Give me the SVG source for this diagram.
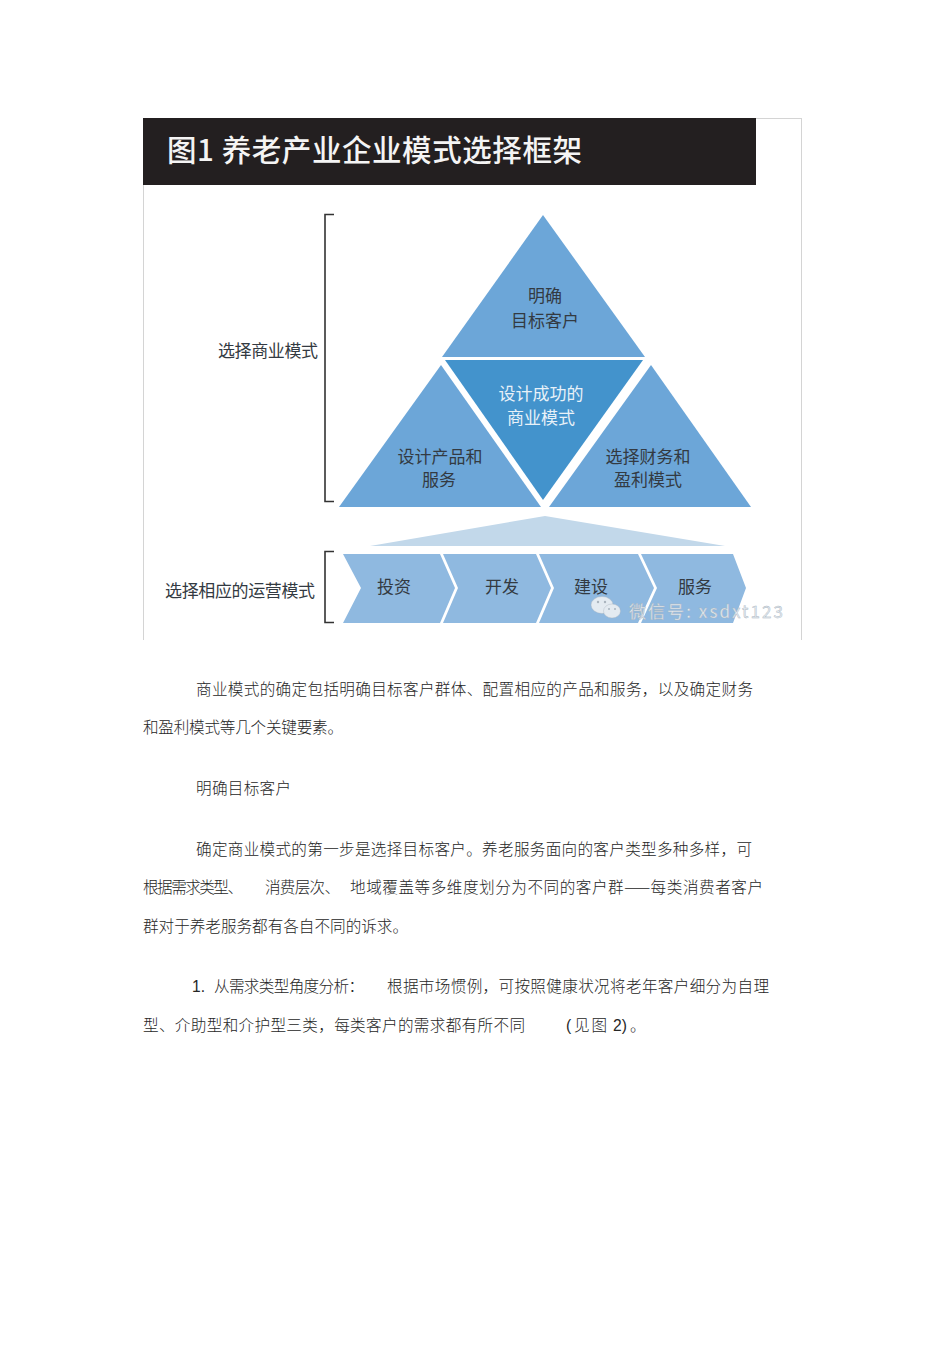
<svg xmlns="http://www.w3.org/2000/svg" width="950" height="1345" viewBox="0 0 950 1345">
<style>
text{font-family:"Noto Sans CJK SC","Liberation Sans",sans-serif}
.b{font-size:15.6px;fill:#262626;font-weight:300}
.a{font-size:15.6px;fill:#262626;font-family:"Liberation Sans",sans-serif}
.n{font-size:17px;fill:#333a42;text-anchor:middle}
.w{font-size:17px;fill:#e8f1f8;text-anchor:middle}
.l{fill:#6ca6d8}
.c{fill:#8fb9e0}
.br{fill:none;stroke:#333;stroke-width:1.6}
.wm{fill:#e4ebf1;stroke:#a9b4be;stroke-width:.4}
</style>
<rect width="950" height="1345" fill="#fff"/>
<g id="frame"><path d="M143.500 118V640M801.500 118V640M756 118.500H802" fill="none" stroke="#d4d4d4"/></g>
<g id="header"><rect x="143" y="118" width="613" height="67" fill="#231f20"/>
<text x="167" y="161" font-size="29.500" font-weight="500" fill="#f4f4f4" textLength="415" lengthAdjust="spacing">图1 养老产业企业模式选择框架</text></g>
<g id="connectors">
<path class="br" d="M334 214.500H325V501.500H334"/>
<path class="br" d="M334 551.500H325V622.500H334"/>
</g>
<g id="label-business"><text class="n" x="268" y="357" textLength="100">选择商业模式</text></g>
<g id="label-operation"><text class="n" x="240" y="597" textLength="150">选择相应的运营模式</text></g>
<g id="tri-top"><polygon class="l" points="543,215 645,357 442,357"/>
<text class="n" x="545" y="302">明确</text><text class="n" x="545" y="327">目标客户</text></g>
<g id="tri-center"><polygon fill="#4393cc" points="445,360 643,360 543,500"/>
<text class="w" x="541" y="400">设计成功的</text><text class="w" x="541" y="424">商业模式</text></g>
<g id="tri-left"><polygon class="l" points="441,365 541,507 339,507"/>
<text class="n" x="440" y="463">设计产品和</text><text class="n" x="439" y="486">服务</text></g>
<g id="tri-right"><polygon class="l" points="651,365 751,507 549,507"/>
<text class="n" x="648" y="463">选择财务和</text><text class="n" x="648" y="486">盈利模式</text></g>
<g id="tri-pale"><polygon fill="#c2d8ea" points="370,546 545,516 725,546"/></g>
<g id="chev-1"><polygon class="c" points="343,554 440,554 455,588 440,623 343,623 361,588"/><text class="n" x="394" y="593">投资</text></g>
<g id="chev-2"><polygon class="c" points="443,554 536,554 551,588 536,623 443,623 458,588"/><text class="n" x="502" y="593">开发</text></g>
<g id="chev-3"><polygon class="c" points="539,554 638,554 654,588 638,623 539,623 554,588"/><text class="n" x="591" y="593">建设</text></g>
<g id="chev-4"><polygon class="c" points="641,554 733,554 746,588 733,623 641,623 657,588"/><text class="n" x="695" y="593">服务</text></g>
<g id="watermark">
<ellipse class="wm" cx="602" cy="605" rx="11" ry="8.500"/><ellipse class="wm" cx="612" cy="611" rx="8.500" ry="7"/>
<circle cx="598" cy="602" r="1.200" fill="#a9b4be"/><circle cx="605" cy="602" r="1.200" fill="#a9b4be"/>
<circle cx="609" cy="609" r="1" fill="#a9b4be"/><circle cx="615" cy="609" r="1" fill="#a9b4be"/>
<text class="wm" x="629" y="618" font-size="17" textLength="154">微信号: xsdxt123</text></g>
<g id="body">
<text class="b" x="196" y="695" textLength="557">商业模式的确定包括明确目标客户群体、配置相应的产品和服务，以及确定财务</text>
<text class="b" x="143" y="733" textLength="200">和盈利模式等几个关键要素。</text>
<text class="b" x="196" y="794" textLength="95">明确目标客户</text>
<text class="b" x="196" y="855" textLength="556">确定商业模式的第一步是选择目标客户。养老服务面向的客户类型多种多样，可</text>
<text class="b" x="143" y="893" textLength="100">根据需求类型、</text>
<text class="b" x="265" y="893" textLength="75">消费层次、</text>
<text class="b" x="350" y="893" textLength="413">地域覆盖等多维度划分为不同的客户群——每类消费者客户</text>
<text class="b" x="143" y="932" textLength="265">群对于养老服务都有各自不同的诉求。</text>
<text class="a" x="192" y="992">1.</text>
<text class="b" x="214" y="992" textLength="150">从需求类型角度分析：</text>
<text class="b" x="387" y="992" textLength="382">根据市场惯例，可按照健康状况将老年客户细分为自理</text>
<text class="b" x="143" y="1031" textLength="382">型、介助型和介护型三类，每类客户的需求都有所不同</text>
<text class="a" x="566" y="1031">(</text>
<text class="b" x="574" y="1031" textLength="33">见图</text>
<text class="a" x="613" y="1031">2)</text>
<text class="b" x="630" y="1031">。</text>
</g>
</svg>
